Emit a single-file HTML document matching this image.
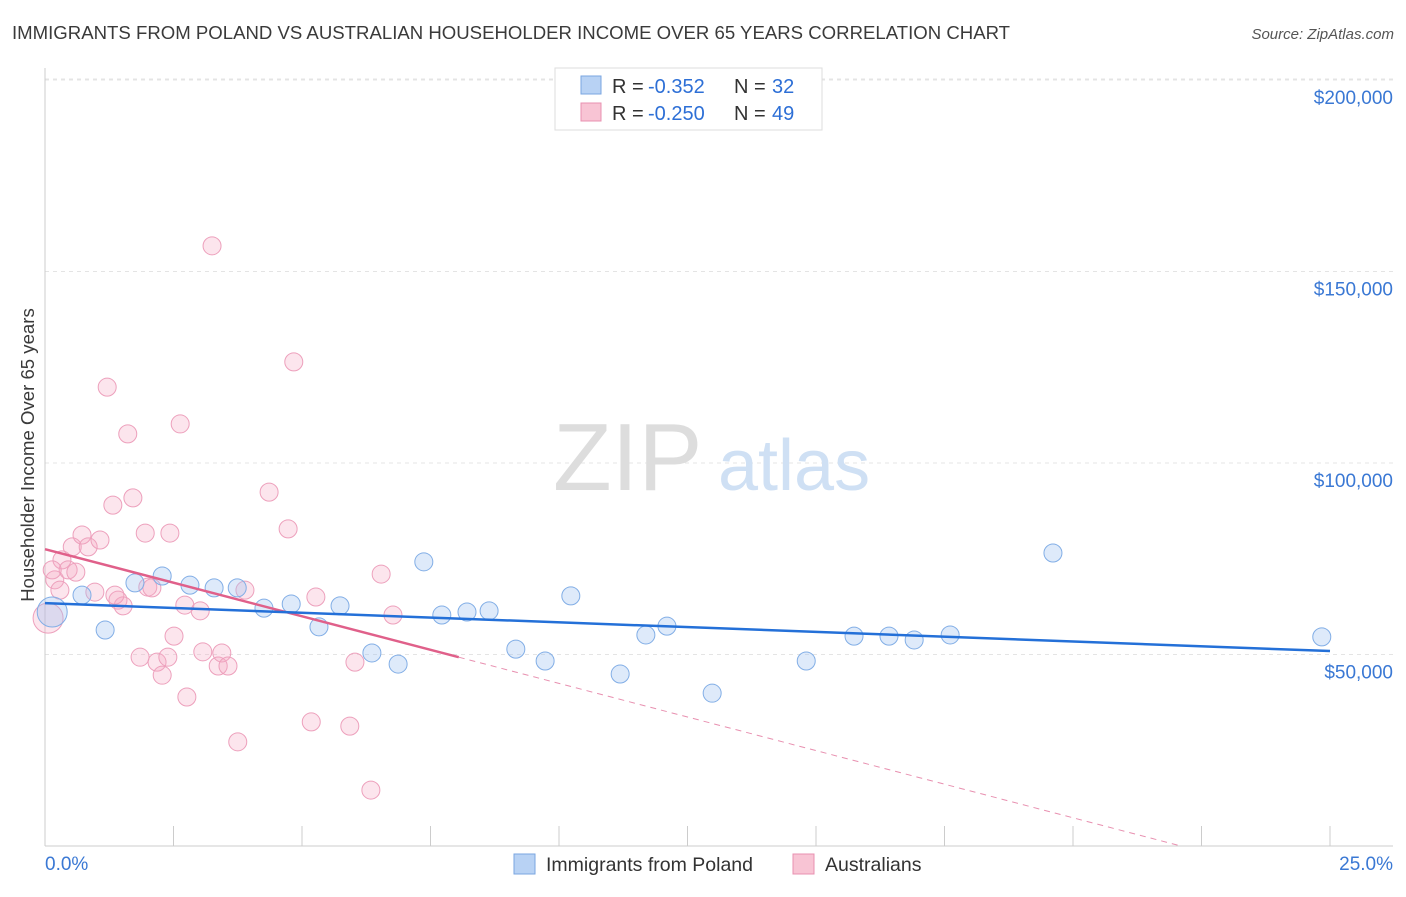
<!DOCTYPE html>
<html><head><meta charset="utf-8"><style>
body{margin:0;background:#fff;font-family:"Liberation Sans",sans-serif;}
svg text{font-family:"Liberation Sans",sans-serif;}
</style></head><body>
<svg id="chart" width="1406" height="892" xmlns="http://www.w3.org/2000/svg">
<text x="12" y="39" font-size="18.6" fill="#3a3a3a">IMMIGRANTS FROM POLAND VS AUSTRALIAN HOUSEHOLDER INCOME OVER 65 YEARS CORRELATION CHART</text>
<text x="1394" y="39" font-size="15" fill="#555" text-anchor="end" font-style="italic">Source: ZipAtlas.com</text>
<text x="34" y="455" font-size="18.6" fill="#3a3a3a" text-anchor="middle" transform="rotate(-90 34 455)">Householder Income Over 65 years</text>
<g id="grid"></g>
<g id="wm"><text x="553" y="490" font-size="96" fill="#ddd" font-family="Liberation Serif">ZIP</text><text x="718" y="490" font-size="72" fill="#cfe0f4">atlas</text></g>
<g id="marks"></g>
<g>
<rect x="555" y="68" width="267" height="62" fill="#fff" stroke="#ddd"/>
<rect x="581" y="76" width="20" height="18" fill="#b8d2f4" stroke="#7aa6e0"/>
<text x="612" y="93" font-size="20" fill="#333">R =</text><text x="648" y="93" font-size="20" fill="#2d6fd6">-0.352</text>
<text x="734" y="93" font-size="20" fill="#333">N =</text><text x="772" y="93" font-size="20" fill="#2d6fd6">32</text>
<rect x="581" y="103" width="20" height="18" fill="#f8c4d4" stroke="#e890b0"/>
<text x="612" y="120" font-size="20" fill="#333">R =</text><text x="648" y="120" font-size="20" fill="#2d6fd6">-0.250</text>
<text x="734" y="120" font-size="20" fill="#333">N =</text><text x="772" y="120" font-size="20" fill="#2d6fd6">49</text>
</g>
<g>
<rect x="514" y="854" width="21" height="20" fill="#b8d2f4" stroke="#7aa6e0"/>
<text x="546" y="871" font-size="19.5" fill="#333">Immigrants from Poland</text>
<rect x="793" y="854" width="21" height="20" fill="#f8c4d4" stroke="#e890b0"/>
<text x="825" y="871" font-size="19.5" fill="#333">Australians</text>
</g>
</svg>
<script>
const xTicks=[0,2.5,5,7.5,10,12.5,15,17.5,20,22.5,25];
const yTicks=[50,100,150,200];
const yTickLabels=["$50,000","$100,000","$150,000","$200,000"];
const polandX=[0.14,0.72,1.17,1.75,2.28,2.82,3.29,3.74,4.26,4.79,5.33,5.74,6.36,6.87,7.37,7.72,8.21,8.64,9.16,9.73,10.23,11.19,11.69,12.1,12.98,14.81,15.74,16.42,16.91,17.61,19.61,24.84];
const polandY=[61.1,65.5,56.4,68.7,70.5,68.1,67.4,67.4,62.1,63.2,57.2,62.7,50.4,47.5,74.2,60.3,61.1,61.4,51.4,48.3,65.3,44.9,55.1,57.4,39.9,48.3,54.8,54.8,53.8,55.1,76.5,54.6];
const ausX=[0.06,0.19,0.33,0.45,0.53,0.6,0.72,0.84,0.97,1.07,1.21,1.32,1.42,1.52,1.61,1.71,1.85,1.95,2.0,2.08,2.18,2.28,2.39,2.43,2.51,2.63,2.72,2.76,3.02,3.07,3.25,3.37,3.44,3.56,3.75,3.89,4.36,4.73,4.84,5.18,5.27,5.93,6.03,6.34,6.54,6.77,0.29,1.36,0.14];
const ausY=[59.5,69.5,74.7,72.1,78.1,71.5,81.2,78.1,66.3,79.9,119.8,89.0,64.2,62.7,107.6,90.9,49.3,81.7,67.6,67.4,48.0,44.6,49.3,81.7,54.8,110.2,62.9,38.9,61.4,50.7,156.7,47.0,50.4,47.0,27.2,66.8,92.4,82.8,126.4,32.4,65.0,31.3,48.0,14.6,71.0,60.3,66.8,65.5,72.1];
const polandTrend=[[0,63.4],[25,50.9]];
const ausTrend=[[0,77.5],[8.05,49.3]];
const ausTrendDash=[[8.05,49.3],[22.1,0]];
const X=v=>45+v*51.4, Y=v=>846-v*3.83;
const NS="http://www.w3.org/2000/svg";
const svg=document.getElementById('chart'),grid=document.getElementById('grid'),marks=document.getElementById('marks');
function mk(t,a,p){const e=document.createElementNS(NS,t);for(const k in a)e.setAttribute(k,a[k]);(p||svg).appendChild(e);return e;}
yTicks.forEach((v,i)=>{
 const l=mk('line',{x1:45,x2:1393,y1:Y(v),y2:Y(v),stroke:'#e4e4e4','stroke-dasharray':'4,4'},grid);
 
 
 const t=mk('text',{x:1393,y:Y(v)+24,'font-size':19,fill:'#3a78d4','text-anchor':'end'},grid);t.textContent=yTickLabels[i];
 
 
});
mk('line',{x1:45,x2:1393,y1:79,y2:79,stroke:'#e4e4e4','stroke-dasharray':'4,4'},grid);
mk('line',{x1:45,x2:45,y1:68,y2:846,stroke:'#ccc'},grid);
const ax=mk('line',{x1:45,x2:1393,y1:846,y2:846,stroke:'#ccc'},grid);


xTicks.forEach(v=>{const t=mk('line',{x1:X(v),x2:X(v),y1:826,y2:846,stroke:'#ccc'},grid);
 
 });
let t0=mk('text',{x:45,y:870,'font-size':19,fill:'#3a78d4'},grid);t0.textContent='0.0%';


let t1=mk('text',{x:1393,y:870,'font-size':19,fill:'#3a78d4','text-anchor':'end'},grid);t1.textContent='25.0%';


ausX.forEach((x,i)=>{const c=mk('circle',{cx:X(x),cy:Y(ausY[i]),r:i==0?15:9,fill:'rgba(245,170,195,0.3)',stroke:'#eda0bc','stroke-width':1},marks);
 
 });
polandX.forEach((x,i)=>{const c=mk('circle',{cx:X(x),cy:Y(polandY[i]),r:i==0?15:9,fill:'rgba(160,195,240,0.35)',stroke:'#82aee6','stroke-width':1},marks);
 
 });
const d=mk('line',{x1:X(ausTrendDash[0][0]),y1:Y(ausTrendDash[0][1]),x2:X(ausTrendDash[1][0]),y2:Y(ausTrendDash[1][1]),stroke:'#e890b0','stroke-dasharray':'6,5','stroke-width':1},marks);


const pa=mk('line',{x1:X(ausTrend[0][0]),y1:Y(ausTrend[0][1]),x2:X(ausTrend[1][0]),y2:Y(ausTrend[1][1]),stroke:'#e0608a','stroke-width':2.5},marks);


const pb=mk('line',{x1:X(polandTrend[0][0]),y1:Y(polandTrend[0][1]),x2:X(polandTrend[1][0]),y2:Y(polandTrend[1][1]),stroke:'#2470d8','stroke-width':2.5},marks);


</script>
</body></html>
